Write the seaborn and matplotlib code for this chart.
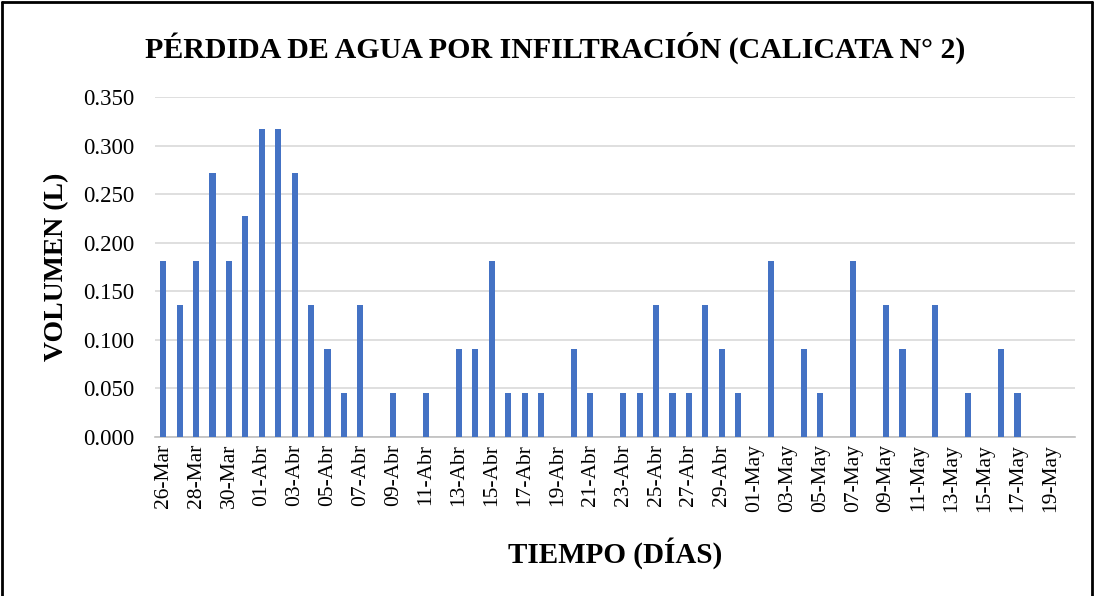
import numpy as np
import pandas as pd
import matplotlib
matplotlib.use('Agg')
import matplotlib.pyplot as plt
from matplotlib.lines import Line2D
from matplotlib.ticker import FormatStrFormatter, FixedLocator
import seaborn as sns

# Dates (26-Mar .. 20-May) and measured volume loss (L)
mar_days = [f'{d:02d}-Mar' for d in range(26, 32)]
abr_days = [f'{d:02d}-Abr' for d in range(1, 31)]
may_days = [f'{d:02d}-May' for d in range(1, 21)]
fechas = mar_days + abr_days + may_days

vol_mar = [0.181, 0.136, 0.181, 0.272, 0.181, 0.227]
vol_abr = [0.317, 0.317, 0.272, 0.136, 0.091, 0.045, 0.136, 0.0, 0.045, 0.0,
           0.045, 0.0, 0.091, 0.091, 0.181, 0.045, 0.045, 0.045, 0.0, 0.091,
           0.045, 0.0, 0.045, 0.045, 0.136, 0.045, 0.045, 0.136, 0.091, 0.045]
vol_may = [0.0, 0.181, 0.0, 0.091, 0.045, 0.0, 0.181, 0.0, 0.136, 0.091,
           0.0, 0.136, 0.0, 0.045, 0.0, 0.091, 0.045, 0.0, 0.0, 0.0]
volumen = vol_mar + vol_abr + vol_may

y_ticks = [0.0, 0.05, 0.10, 0.15, 0.20, 0.25, 0.30, 0.35]

df = pd.DataFrame({'fecha': fechas, 'volumen': volumen})

sns.set_theme(style='white')
plt.rcParams['font.family'] = ['Liberation Serif', 'DejaVu Serif']
plt.rcParams['text.color'] = 'black'
plt.rcParams['axes.labelcolor'] = 'black'
plt.rcParams['xtick.color'] = 'black'
plt.rcParams['ytick.color'] = 'black'

fig = plt.figure(figsize=(10.94, 5.96), dpi=100)
ax = fig.add_axes([155 / 1094, 1 - 437 / 596, 920 / 1094, 340 / 596])

sns.barplot(data=df, x='fecha', y='volumen', color='#4472C4', width=0.38,
            saturation=1, linewidth=0, ax=ax, zorder=3)

ax.set_xlim(-0.5, len(fechas) - 0.5)
ax.set_ylim(0, 0.35)
ax.set_yticks(y_ticks)
ax.yaxis.set_major_formatter(FormatStrFormatter('%.3f'))
ax.grid(axis='y', color='#d9d9d9', linewidth=1.2, zorder=0)

pos = np.arange(0, len(fechas), 2)
ax.set_xticks(pos)
ax.set_xticklabels([fechas[i] for i in pos], rotation=90)
ax.xaxis.set_minor_locator(FixedLocator(np.arange(-0.5, len(fechas), 2)))
ax.tick_params(axis='x', which='major', length=0, labelsize=15.5, pad=5)
ax.tick_params(axis='x', which='minor', length=5, color='#bfbfbf', width=1.2)
ax.tick_params(axis='y', length=0, labelsize=16.5, pad=15)

for s in ['top', 'right', 'left']:
    ax.spines[s].set_visible(False)
ax.spines['bottom'].set_color('#bfbfbf')
ax.spines['bottom'].set_linewidth(1.2)

ax.set_xlabel('TIEMPO (DÍAS)', fontsize=21, fontweight='bold', labelpad=18)
ax.set_ylabel('VOLUMEN (L)', fontsize=20, fontweight='bold', labelpad=10)
fig.text(555 / 1094, 1 - 48 / 596, 'PÉRDIDA DE AGUA POR INFILTRACIÓN (CALICATA N° 2)',
         ha='center', va='center', fontsize=21.5, fontweight='bold')

# chart frame
for xs, ys in [([0.002, 0.002], [0, 0.996]), ([0.002, 0.998], [0.996, 0.996]),
               ([0.998, 0.998], [0, 0.996])]:
    fig.add_artist(Line2D(xs, ys, color='black', linewidth=2, transform=fig.transFigure))

fig.savefig('out.png', dpi=100)
